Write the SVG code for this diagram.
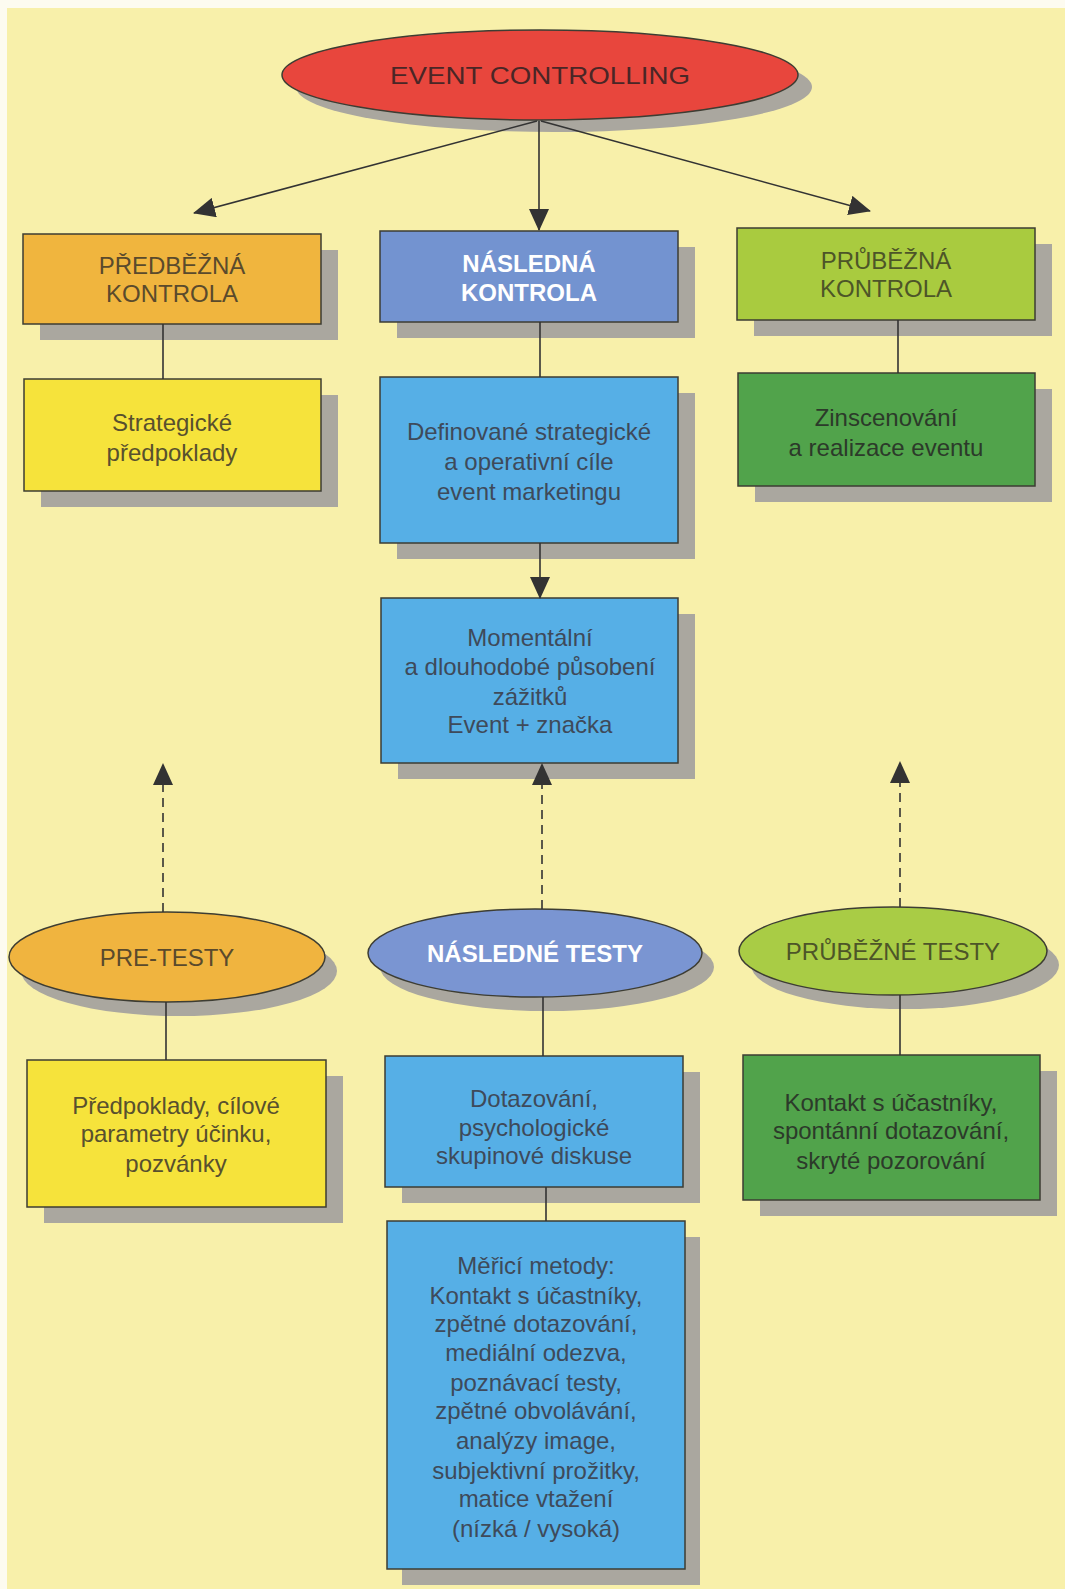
<svg xmlns="http://www.w3.org/2000/svg" width="1065" height="1589" viewBox="0 0 1065 1589">
<defs>
<marker id="ah" markerUnits="userSpaceOnUse" markerWidth="22" markerHeight="20" refX="21" refY="10" orient="auto">
<path d="M0,0 L22,10 L0,20 z" fill="#333"/>
</marker>
<style>
.t{font-family:"Liberation Sans",Arial,sans-serif;font-size:24px;text-anchor:middle}
.sh{fill:#aaa79f}
.bx{stroke:#3d3d33;stroke-width:1.5}
.ln{stroke:#333;stroke-width:1.6;fill:none}
.ds{stroke:#333;stroke-width:1.6;fill:none;stroke-dasharray:9,6}
.wh{fill:#ffffff;font-weight:bold}
.bl{fill:#3e4a5a}
</style>
</defs>
<rect width="1065" height="1589" fill="#f8f0aa"/>
<rect width="1065" height="8" fill="#fdfbf0"/>
<rect width="7" height="1589" fill="#fdfbf0"/>

<g id="event-controlling">
<ellipse class="sh" cx="554" cy="87" rx="258" ry="45"/>
<ellipse class="bx" cx="540" cy="75" rx="258" ry="45" fill="#e8463d"/>
<text class="t" x="540" y="84" font-size="26" fill="#4a2626" textLength="300" lengthAdjust="spacingAndGlyphs">EVENT CONTROLLING</text>
</g>

<g id="predbezna-kontrola">
<rect class="sh" x="40" y="250" width="298" height="90"/>
<rect class="bx" x="23" y="234" width="298" height="90" fill="#f0b53e"/>
<text class="t" fill="#5a4a2c"><tspan x="172" y="274">PŘEDBĚŽNÁ</tspan><tspan x="172" y="302">KONTROLA</tspan></text>
</g>

<g id="nasledna-kontrola">
<rect class="sh" x="397" y="247" width="298" height="91"/>
<rect class="bx" x="380" y="231" width="298" height="91" fill="#7393d0"/>
<text class="t wh"><tspan x="529" y="272">NÁSLEDNÁ</tspan><tspan x="529" y="301">KONTROLA</tspan></text>
</g>

<g id="prubezna-kontrola">
<rect class="sh" x="754" y="244" width="298" height="92"/>
<rect class="bx" x="737" y="228" width="298" height="92" fill="#a9cb3f"/>
<text class="t" fill="#4d5528"><tspan x="886" y="269">PRŮBĚŽNÁ</tspan><tspan x="886" y="297">KONTROLA</tspan></text>
</g>

<g id="strategicke-predpoklady">
<rect class="sh" x="41" y="395" width="297" height="112"/>
<rect class="bx" x="24" y="379" width="297" height="112" fill="#f6e33b"/>
<text class="t" fill="#58502e"><tspan x="172" y="431">Strategické</tspan><tspan x="172" y="461">předpoklady</tspan></text>
</g>

<g id="definovane-cile">
<rect class="sh" x="397" y="393" width="298" height="166"/>
<rect class="bx" x="380" y="377" width="298" height="166" fill="#56afe6"/>
<text class="t bl"><tspan x="529" y="440">Definované strategické</tspan><tspan x="529" y="470">a operativní cíle</tspan><tspan x="529" y="500">event marketingu</tspan></text>
</g>

<g id="zinscenovani">
<rect class="sh" x="755" y="389" width="297" height="113"/>
<rect class="bx" x="738" y="373" width="297" height="113" fill="#51a34b"/>
<text class="t" fill="#2c3a2a"><tspan x="886" y="426">Zinscenování</tspan><tspan x="886" y="456">a realizace eventu</tspan></text>
</g>

<g id="momentalni-pusobeni">
<rect class="sh" x="398" y="614" width="297" height="165"/>
<rect class="bx" x="381" y="598" width="297" height="165" fill="#56afe6"/>
<text class="t bl"><tspan x="530" y="646">Momentální</tspan><tspan x="530" y="675">a dlouhodobé působení</tspan><tspan x="530" y="705">zážitků</tspan><tspan x="530" y="733">Event + značka</tspan></text>
</g>

<g id="pre-testy">
<ellipse class="sh" cx="179" cy="971" rx="158" ry="45"/>
<ellipse class="bx" cx="167" cy="957" rx="158" ry="45" fill="#f0b43f"/>
<text class="t" x="167" y="966" fill="#5a4a2c">PRE-TESTY</text>
</g>

<g id="nasledne-testy">
<ellipse class="sh" cx="547" cy="967" rx="167" ry="44"/>
<ellipse class="bx" cx="535" cy="953" rx="167" ry="44" fill="#7a95d2"/>
<text class="t wh" x="535" y="962">NÁSLEDNÉ TESTY</text>
</g>

<g id="prubezne-testy">
<ellipse class="sh" cx="905" cy="965" rx="154" ry="44"/>
<ellipse class="bx" cx="893" cy="951" rx="154" ry="44" fill="#a9cc45"/>
<text class="t" x="893" y="960" fill="#4d5528">PRŮBĚŽNÉ TESTY</text>
</g>

<g id="predpoklady-parametry">
<rect class="sh" x="44" y="1076" width="299" height="147"/>
<rect class="bx" x="27" y="1060" width="299" height="147" fill="#f6e33b"/>
<text class="t" fill="#58502e"><tspan x="176" y="1114">Předpoklady, cílové</tspan><tspan x="176" y="1142">parametry účinku,</tspan><tspan x="176" y="1172">pozvánky</tspan></text>
</g>

<g id="dotazovani">
<rect class="sh" x="402" y="1072" width="298" height="131"/>
<rect class="bx" x="385" y="1056" width="298" height="131" fill="#56afe6"/>
<text class="t bl"><tspan x="534" y="1107">Dotazování,</tspan><tspan x="534" y="1136">psychologické</tspan><tspan x="534" y="1164">skupinové diskuse</tspan></text>
</g>

<g id="kontakt-ucastniky">
<rect class="sh" x="760" y="1071" width="297" height="145"/>
<rect class="bx" x="743" y="1055" width="297" height="145" fill="#51a34b"/>
<text class="t" fill="#2c3a2a"><tspan x="891" y="1111">Kontakt s účastníky,</tspan><tspan x="891" y="1139">spontánní dotazování,</tspan><tspan x="891" y="1169">skryté pozorování</tspan></text>
</g>

<g id="merici-metody">
<rect class="sh" x="402" y="1237" width="298" height="348"/>
<rect class="bx" x="387" y="1221" width="298" height="348" fill="#56afe6"/>
<text class="t bl"><tspan x="536" y="1274">Měřicí metody:</tspan><tspan x="536" y="1304">Kontakt s účastníky,</tspan><tspan x="536" y="1332">zpětné dotazování,</tspan><tspan x="536" y="1361">mediální odezva,</tspan><tspan x="536" y="1391">poznávací testy,</tspan><tspan x="536" y="1419">zpětné obvolávání,</tspan><tspan x="536" y="1449">analýzy image,</tspan><tspan x="536" y="1479">subjektivní prožitky,</tspan><tspan x="536" y="1507">matice vtažení</tspan><tspan x="536" y="1537">(nízká / vysoká)</tspan></text>
</g>

<g id="connectors">
<line class="ln" x1="537" y1="121" x2="194" y2="213" marker-end="url(#ah)"/>
<line class="ln" x1="539" y1="121" x2="539" y2="230" marker-end="url(#ah)"/>
<line class="ln" x1="541" y1="121" x2="870" y2="211" marker-end="url(#ah)"/>
<line class="ln" x1="163" y1="324" x2="163" y2="379"/>
<line class="ln" x1="540" y1="322" x2="540" y2="377"/>
<line class="ln" x1="898" y1="320" x2="898" y2="373"/>
<line class="ln" x1="540" y1="543" x2="540" y2="598" marker-end="url(#ah)"/>
<line class="ds" x1="163" y1="912" x2="163" y2="764" marker-end="url(#ah)"/>
<line class="ds" x1="542" y1="909" x2="542" y2="764" marker-end="url(#ah)"/>
<line class="ds" x1="900" y1="907" x2="900" y2="762" marker-end="url(#ah)"/>
<line class="ln" x1="166" y1="1002" x2="166" y2="1060"/>
<line class="ln" x1="543" y1="997" x2="543" y2="1056"/>
<line class="ln" x1="900" y1="995" x2="900" y2="1055"/>
<line class="ln" x1="546" y1="1187" x2="546" y2="1221"/>
</g>
</svg>
